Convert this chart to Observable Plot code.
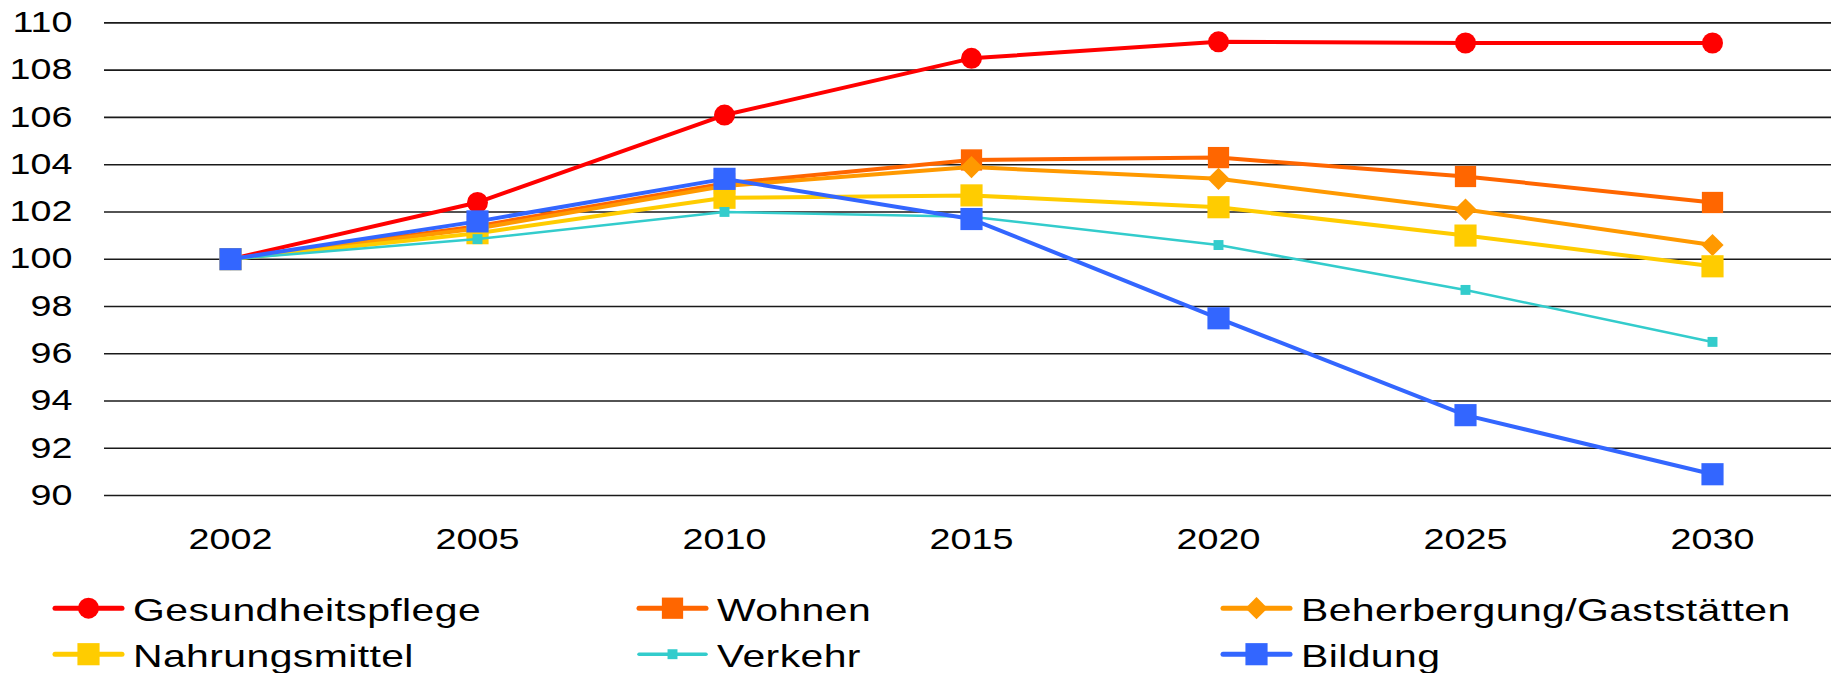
<!DOCTYPE html>
<html>
<head>
<meta charset="utf-8">
<script src="https://cdn.jsdelivr.net/npm/d3@7"></script>
<script src="https://cdn.jsdelivr.net/npm/@observablehq/plot@0.6"></script>
<style>
  html, body { margin: 0; padding: 0; background: #fff; }
  #chart svg { display: block; }
  #legend { display: block; }
</style>
</head>
<body>
<div id="chart"></div>
<svg id="legend" width="1831" height="98"></svg>
<script>
// ---- data ----
const years = ["2002", "2005", "2010", "2015", "2020", "2025", "2030"];
const yTicks = [90, 92, 94, 96, 98, 100, 102, 104, 106, 108, 110];

const seriesNames = ["Gesundheitspflege", "Wohnen", "Beherbergung/Gaststätten", "Nahrungsmittel", "Verkehr", "Bildung"];
const gesundheitspflege = [100, 102.4, 106.1, 108.5, 109.2, 109.15, 109.15];
const wohnen            = [100, 101.4, 103.2, 104.2, 104.3, 103.5, 102.4];
const beherbergung      = [100, 101.3, 103.1, 103.9, 103.4, 102.1, 100.6];
const nahrungsmittel    = [100, 101.1, 102.6, 102.7, 102.2, 101.0, 99.7];
const verkehr           = [100, 100.85, 102.0, 101.8, 100.6, 98.7, 96.5];
const bildung           = [100, 101.6, 103.4, 101.7, 97.5, 93.4, 90.9];

const seriesValues = [gesundheitspflege, wohnen, beherbergung, nahrungsmittel, verkehr, bildung];
const colors  = ["#FF0000", "#FF6600", "#FF9900", "#FFCC00", "#33CCCC", "#3366FF"];
const symbols = ["circle", "square", "diamond2", "square", "square", "square"];
const radii   = [10.5, 12, 10, 12.5, 5.6, 12.5];
const widths  = [4, 4, 4, 4, 2.5, 4];

const STRETCH = 1.3;

// ---- chart ----
const marks = [
  Plot.ruleY(yTicks, {stroke: "#1a1a1a", strokeWidth: 1.6}),
  Plot.axisY({ticks: yTicks, tickSize: 0, tickPadding: 32}),
  Plot.axisX({tickSize: 0, tickPadding: 33})
];
seriesNames.forEach((name, i) => {
  const rows = years.map((yr, j) => ({year: yr, value: seriesValues[i][j], series: name}));
  marks.push(Plot.line(rows, {x: "year", y: "value", stroke: colors[i], strokeWidth: widths[i]}));
  marks.push(Plot.dot(rows, {x: "year", y: "value", symbol: symbols[i], r: radii[i], fill: colors[i], stroke: "none"}));
});

const chart = Plot.plot({
  width: 1831,
  height: 575,
  marginLeft: 104,
  marginRight: 0,
  marginTop: 22,
  marginBottom: 80,
  x: {type: "point", domain: years, range: [106, 1836], label: null},
  y: {domain: [90, 110], range: [495, 22.4], label: null},
  style: {
    fontFamily: "'Liberation Sans', Arial, sans-serif",
    fontSize: "29px",
    color: "#000",
    background: "#fff",
    overflow: "visible"
  },
  marks
});
document.getElementById("chart").appendChild(chart);

// stretch tick labels horizontally around their anchor (reference text is widened)
chart.querySelectorAll("text").forEach(t => {
  const xs = t.getAttribute("x");
  let xnum = 0;
  if (xs !== null && xs !== "" && !isNaN(+xs)) { xnum = +xs; t.setAttribute("x", 0); }
  const tr = t.getAttribute("transform") || "";
  t.setAttribute("transform", `${tr} translate(${xnum},0) scale(${STRETCH},1)`.trim());
});

// ---- legend ----
const legend = d3.select("#legend");
const colX = [55, 639, 1223];
const rowBase = [45.7, 91.7];
seriesNames.forEach((name, i) => {
  const col = i % 3, row = Math.floor(i / 3);
  const x0 = colX[col], base = rowBase[row], cy = base - 12.5;
  const g = legend.append("g");
  g.append("line")
    .attr("x1", x0).attr("x2", x0 + 67)
    .attr("y1", cy).attr("y2", cy)
    .attr("stroke", colors[i]).attr("stroke-width", widths[i] + 1)
    .attr("stroke-linecap", "round");
  const symType = {circle: d3.symbolCircle, square: d3.symbolSquare, diamond2: d3.symbolDiamond2}[symbols[i]];
  g.append("path")
    .attr("transform", `translate(${x0 + 33.5},${cy})`)
    .attr("d", d3.symbol(symType, radii[i] * radii[i] * Math.PI)())
    .attr("fill", colors[i]);
  g.append("text")
    .attr("transform", `translate(${x0 + 78},${base}) scale(1.28,1)`)
    .attr("font-family", "'Liberation Sans', Arial, sans-serif")
    .attr("font-size", 32)
    .attr("letter-spacing", "0.3px")
    .attr("fill", "#000")
    .text(name);
});
</script>
</body>
</html>
